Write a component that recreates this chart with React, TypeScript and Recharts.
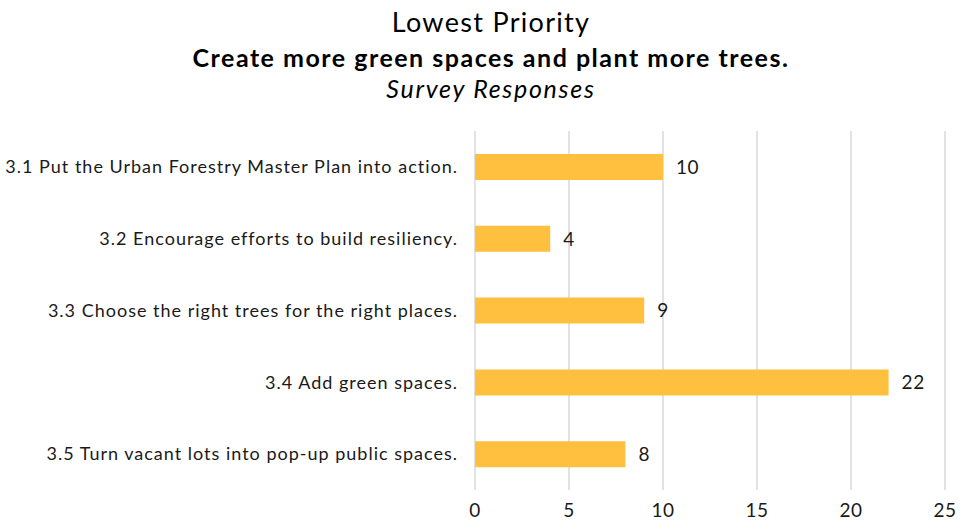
import React from "react"
import { BarChart, Bar, XAxis, YAxis, CartesianGrid, LabelList } from "recharts"

const categories = [
  "3.1 Put the Urban Forestry Master Plan into action.",
  "3.2 Encourage efforts to build resiliency.",
  "3.3 Choose the right trees for the right places.",
  "3.4 Add green spaces.",
  "3.5 Turn vacant lots into pop-up public spaces.",
]
const responses = [10, 4, 9, 22, 8]
const xTicks = [0, 5, 10, 15, 20, 25]

const FONT = "Lato, 'Noto Sans', sans-serif"

export default function App() {
  const data = categories.map((name, i) => ({ name, value: responses[i] }))

  return (
    <div
      style={{
        position: "fixed",
        top: 0,
        left: 0,
        width: 964,
        height: 527,
        background: "#fff",
        fontFamily: FONT,
        color: "#000",
      }}
    >
      <div style={{ position: "absolute", top: 0, left: 9, width: 964, textAlign: "center" }}>
        <div
          style={{ position: "absolute", top: 5, width: 964, fontSize: 27, lineHeight: "34px", letterSpacing: 1.3 }}
        >
          Lowest Priority
        </div>
        <div
          style={{
            position: "absolute",
            top: 41,
            width: 964,
            fontSize: 25,
            fontWeight: 700,
            lineHeight: "32px",
            letterSpacing: 1.5,
          }}
        >
          Create more green spaces and plant more trees.
        </div>
        <div
          style={{
            position: "absolute",
            top: 72,
            width: 964,
            fontSize: 25,
            fontStyle: "italic",
            lineHeight: "32px",
            letterSpacing: 1.7,
          }}
        >
          Survey Responses
        </div>
      </div>
      <div style={{ position: "absolute", top: 0, left: 0 }}>
        <BarChart
          width={964}
          height={527}
          data={data}
          layout="vertical"
          margin={{ top: 131, right: 19, bottom: 7, left: 0 }}
          barSize={26}
        >
          <CartesianGrid horizontal={false} stroke="#d9d9d9" strokeWidth={1.5} />
          <XAxis
            type="number"
            domain={[0, 25]}
            ticks={xTicks}
            axisLine={false}
            tickLine={false}
            tickSize={0}
            tickMargin={14}
            height={30}
            tick={{ fontSize: 19, fill: "#1a1a1a", fontFamily: FONT, letterSpacing: 0.6 }}
          />
          <YAxis
            type="category"
            dataKey="name"
            width={475}
            axisLine={false}
            tickLine={false}
            tickSize={0}
            tickMargin={17}
            tick={{ fontSize: 18, fill: "#1a1a1a", fontFamily: FONT, letterSpacing: 1.0 }}
          />
          <Bar dataKey="value" fill="#ffbf3f" isAnimationActive={false}>
            <LabelList
              dataKey="value"
              position="right"
              offset={13}
              style={{ fontSize: 19, fill: "#1a1a1a", fontFamily: FONT, letterSpacing: 0.6 }}
            />
          </Bar>
        </BarChart>
      </div>
    </div>
  )
}
